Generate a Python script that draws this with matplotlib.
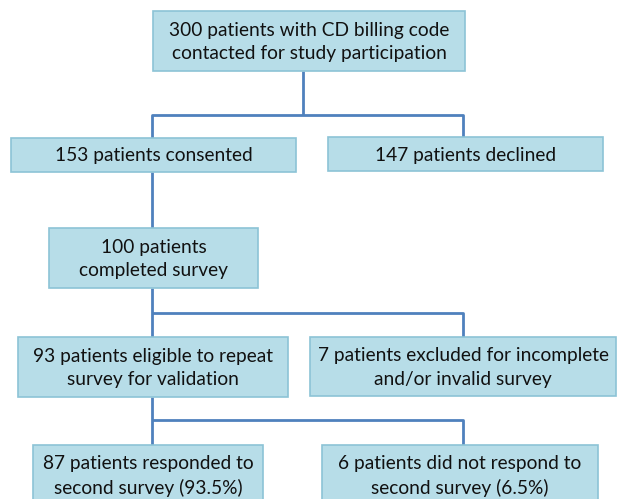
import matplotlib.pyplot as plt
from matplotlib.patches import Rectangle

# flowchart text
labels = [
    "300 patients with CD billing code\ncontacted for study participation",
    "153 patients consented",
    "147 patients declined",
    "100 patients\ncompleted survey",
    "93 patients eligible to repeat\nsurvey for validation",
    "7 patients excluded for incomplete\nand/or invalid survey",
    "87 patients responded to\nsecond survey (93.5%)",
    "6 patients did not respond to\nsecond survey (6.5%)",
]

# box extents in pixels: left, top, right, bottom
boxes = [
    (153, 11, 465, 71),
    (11, 138, 296, 172),
    (328, 137, 603, 171),
    (49, 228, 258, 288),
    (18, 337, 288, 397),
    (310, 337, 616, 396),
    (33, 445, 263, 505),
    (322, 445, 598, 505),
]

fill = "#b7dde8"
edge = "#8cc3d6"
line_c = "#4f81bd"

fig = plt.figure(figsize=(6.17, 4.99), dpi=100)
ax = fig.add_axes([0, 0, 1, 1])
ax.set_xlim(0, 617)
ax.set_ylim(499, 0)
ax.axis("off")

# connector lines
segs = [
    [(303, 71), (303, 115)],
    [(152, 138), (152, 115), (463, 115), (463, 137)],
    [(152, 172), (152, 228)],
    [(152, 288), (152, 337)],
    [(152, 313), (463, 313), (463, 337)],
    [(152, 397), (152, 445)],
    [(152, 420), (463, 420), (463, 445)],
]
for s in segs:
    xs = [p[0] for p in s]
    ys = [p[1] for p in s]
    ax.plot(xs, ys, color=line_c, lw=2, solid_capstyle="butt", zorder=1)

for (l, t, r, b), txt in zip(boxes, labels):
    ax.add_patch(Rectangle((l, t), r - l, b - t, facecolor=fill, edgecolor=edge, lw=1.2, zorder=2))
    ax.text((l + r) / 2, (t + b) / 2 + 1, txt, ha="center", va="center", fontsize=13.8,
            family="Lato", color="#111111", linespacing=1.45, zorder=3)

plt.savefig("out.png", dpi=100)
plt.close()
